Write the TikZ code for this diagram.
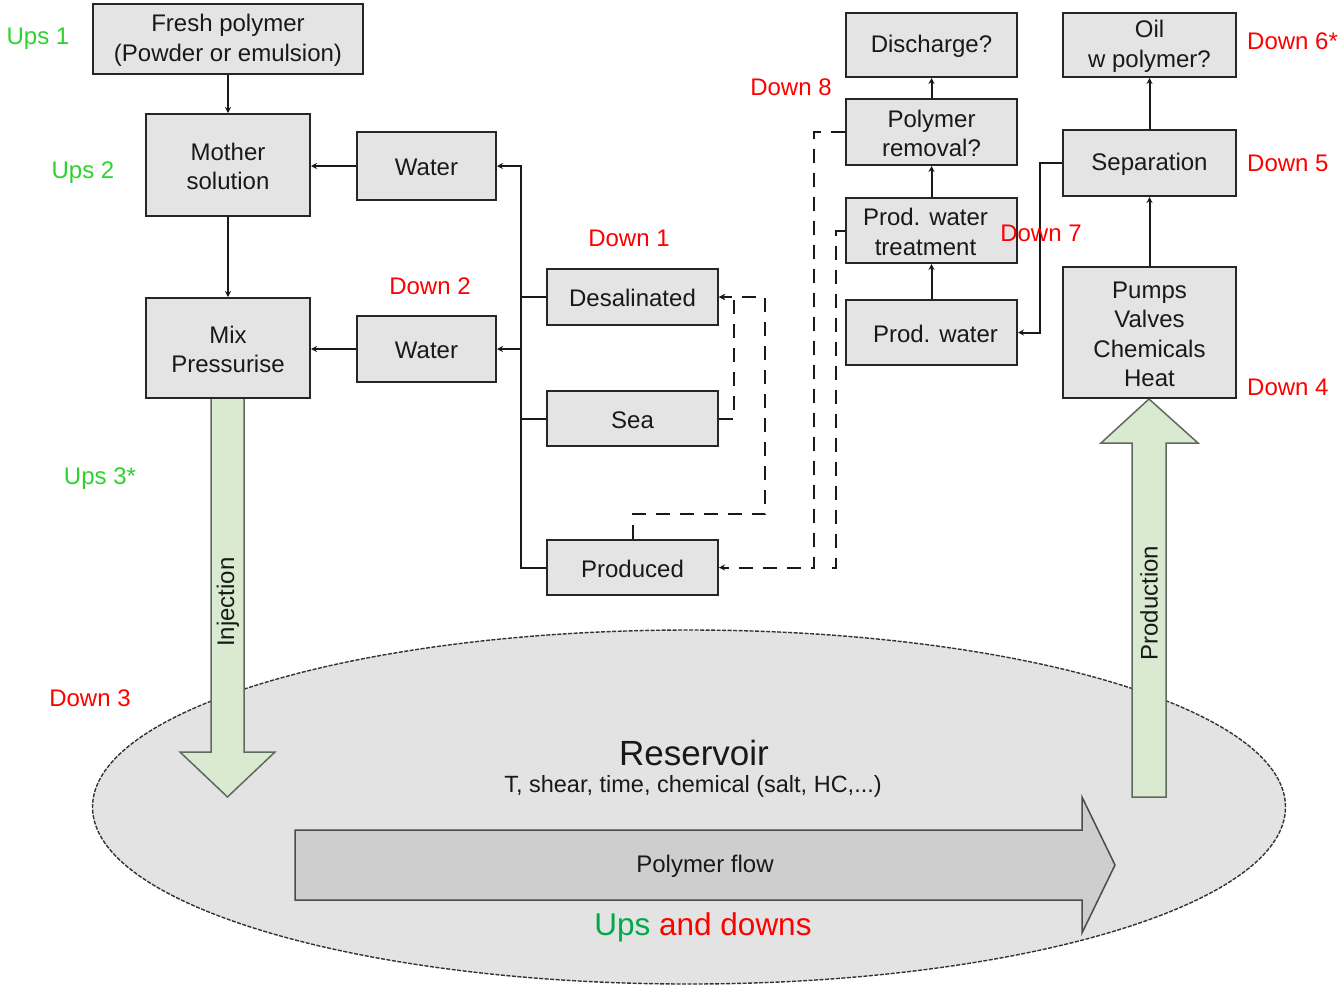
\documentclass[tikz,border=0pt]{standalone}
\usepackage{fontspec}
\setmainfont{Liberation Sans}
\usetikzlibrary{arrows.meta,calc}
\definecolor{boxgray}{RGB}{228,228,228}
\definecolor{resgray}{RGB}{227,227,227}
\definecolor{flowgray}{RGB}{206,206,206}
\definecolor{arrgreen}{RGB}{217,234,208}
\definecolor{arredge}{RGB}{95,105,95}
\definecolor{upsgreen}{RGB}{45,210,45}
\definecolor{darkgreen}{RGB}{0,170,75}
\definecolor{downred}{RGB}{255,0,0}
\begin{document}
\begin{tikzpicture}[x=1pt,y=-1pt,
  box/.style={draw=black!85, line width=2pt, fill=boxgray, inner sep=0pt, align=center,
    font=\fontsize{24}{29.5}\selectfont, text=black!90},
  conn/.style={draw=black!90, line width=2pt, -{Stealth[length=6pt,width=6pt]}},
  plain/.style={draw=black!90, line width=2pt},
  dconn/.style={draw=black!90, line width=2pt, dash pattern=on 14pt off 10pt, -{Stealth[length=6pt,width=6pt]}},
  dplain/.style={draw=black!90, line width=2pt, dash pattern=on 14pt off 10pt},
  ups/.style={text=upsgreen, font=\fontsize{24}{28}\selectfont},
  down/.style={text=downred, font=\fontsize{24}{28}\selectfont},
  bigarrow/.style={draw=arredge, line width=1.5pt, fill=arrgreen, line join=miter},
  vlabel/.style={rotate=90, font=\fontsize{24}{28}\selectfont, text=black!90}
]
\useasboundingbox (0,0) rectangle (1338,986);

% Reservoir
\draw[fill=resgray, draw=black!80, line width=1.4pt, dash pattern=on 4pt off 1.5pt] (689,807) ellipse [x radius=596.5pt, y radius=177pt];
\node[font=\fontsize{35}{40}\selectfont, text=black!90] (res) at (694,753) {Reservoir};
\node[font=\fontsize{23.5}{28}\selectfont, text=black!90] (resparams) at (693,786) {T, shear, time, chemical (salt, HC,...)};

% Polymer flow arrow
\draw[draw=black!70, line width=1.5pt, fill=flowgray, line join=miter]
  (295,830) -- (1082,830) -- (1082,797) -- (1115,865) -- (1082,933) -- (1082,900) -- (295,900) -- cycle;
\node[font=\fontsize{24}{28}\selectfont, text=black!90] (pflow) at (705,866) {Polymer flow};
\node[font=\fontsize{31.5}{36}\selectfont] (updown) at (703,927) {\textcolor{darkgreen}{Ups} \textcolor{downred}{and downs}};

% Injection arrow
\draw[bigarrow] (211,398) -- (244,398) -- (244,752) -- (275,752) -- (227.5,797) -- (180,752) -- (211,752) -- cycle;
\node[vlabel] (inj) at (228,602) {Injection};
% Production arrow
\draw[bigarrow] (1132,797) -- (1166,797) -- (1166,443) -- (1198,443) -- (1149,399) -- (1101,443) -- (1132,443) -- cycle;
\node[vlabel] (prod) at (1149,603) {Production};

% Boxes
\node[box, minimum width=270pt, minimum height=70pt] (fresh) at (228,39) {\rule{0pt}{20pt}Fresh polymer\\(Powder or emulsion)};
\node[box, minimum width=164pt, minimum height=102pt] (mother) at (228,165) {\rule{0pt}{20pt}Mother\\solution};
\node[box, minimum width=139pt, minimum height=68pt] (water1) at (426.5,166) {\rule{0pt}{20pt}Water};
\node[box, minimum width=164pt, minimum height=100pt] (mix) at (228,348) {\rule{0pt}{20pt}Mix\\Pressurise};
\node[box, minimum width=139pt, minimum height=66pt] (water2) at (426.5,349) {\rule{0pt}{20pt}Water};
\node[box, minimum width=171pt, minimum height=56pt] (desal) at (632.5,297) {\rule{0pt}{20pt}Desalinated};
\node[box, minimum width=171pt, minimum height=55pt] (sea) at (632.5,418.5) {\rule{0pt}{20pt}Sea};
\node[box, minimum width=171pt, minimum height=55pt] (produced) at (632.5,567.5) {\rule{0pt}{20pt}Produced};
\node[box, minimum width=171pt, minimum height=64pt] (discharge) at (931.5,45) {\rule{0pt}{20pt}Discharge?};
\node[box, minimum width=171pt, minimum height=66pt] (premoval) at (931.5,132) {\rule{0pt}{20pt}Polymer\\removal?};
\node[box, minimum width=171pt, minimum height=65pt] (ptreat) at (931.5,230.5) {\rule{0pt}{20pt}Prod. water\hspace*{12pt}\\treatment\hspace*{12pt}};
\node[box, minimum width=171pt, minimum height=65pt] (pwater) at (931.5,332.5) {\rule{0pt}{20pt}\hspace*{8pt}Prod. water};
\node[box, minimum width=173pt, minimum height=64pt] (oil) at (1149.5,45) {\rule{0pt}{20pt}Oil\\w polymer?};
\node[box, minimum width=173pt, minimum height=66pt] (sep) at (1149.5,163) {\rule{0pt}{20pt}Separation};
\node[box, minimum width=173pt, minimum height=131pt] (pumps) at (1149.5,332.5) {\rule{0pt}{20pt}Pumps\\Valves\\Chemicals\\Heat};

% Solid connectors
\draw[conn] (fresh) -- (mother);
\draw[conn] (mother) -- (mix);
\draw[conn] (water1.west) -- (water1.west -| mother.east);
\draw[conn] (water2.west) -- (water2.west -| mix.east);
\draw[conn] (produced.west) -- ++(-25,0) |- (water1.east);
\draw[conn] (desal.west) -- ++(-25,0) |- (water2.east);
\draw[plain] (sea.west) -- ++(-25,0);
\draw[conn] (sep.west) -- ++(-22,0) |- (pwater.east);
\draw[conn] (pwater) -- (ptreat);
\draw[conn] (ptreat) -- (premoval);
\draw[conn] (premoval) -- (discharge);
\draw[conn] (pumps) -- (sep);
\draw[conn] (sep) -- (oil);

% Dashed connectors
\draw[dconn] (produced.north) -- ++(0,-25) -| ([xshift=46pt]desal.east) -- (desal.east);
\draw[dconn] (sea.east) -- ++(15,0) |- (desal.east);
\draw[dconn] (premoval.west) -- ++(-31,0) |- (produced.east);
\draw[dplain] (ptreat.west) -- ++(-9,0) |- ([xshift=110pt]produced.east);

% Labels
\node[ups] (u1) at (38,39) {Ups 1};
\node[ups] (u2) at (83,173) {Ups 2};
\node[ups] (u3) at (100,479) {Ups 3*};
\node[down] (d3) at (90,698) {Down 3};
\node[down] (d2) at (430,286) {Down 2};
\node[down] (d1) at (629,238) {Down 1};
\node[down] (d8) at (791,87) {Down 8};
\node[down] (d7) at (1041,233) {Down 7};
\node[down, anchor=west, inner sep=0pt] (d6) at (1247,41) {Down 6*};
\node[down, anchor=west, inner sep=0pt] (d5) at (1247,163) {Down 5};
\node[down, anchor=west, inner sep=0pt] (d4) at (1247,387) {Down 4};
\end{tikzpicture}
\end{document}
